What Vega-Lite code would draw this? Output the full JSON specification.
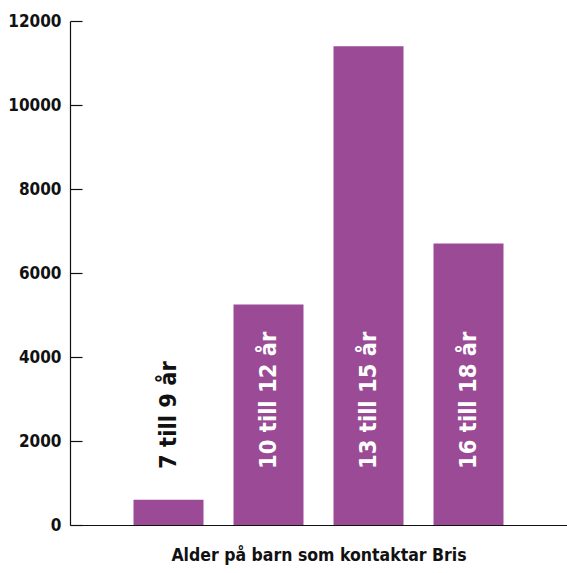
{
  "$schema": "https://vega.github.io/schema/vega-lite/v6.json",
  "autosize": "none",
  "width": 497,
  "height": 504,
  "padding": {"left": 70, "top": 21, "right": 0, "bottom": 48},
  "background": "white",
  "config": {
    "view": {"stroke": null},
    "font": "DejaVu Sans Condensed",
    "axis": {"grid": false, "domainColor": "#111111", "tickColor": "#111111", "domainWidth": 1.2, "tickWidth": 1.2}
  },
  "data": {
    "values": [
      {"alder": "7 till 9 år", "antal": 600},
      {"alder": "10 till 12 år", "antal": 5250},
      {"alder": "13 till 15 år", "antal": 11400},
      {"alder": "16 till 18 år", "antal": 6700}
    ]
  },
  "encoding": {
    "x": {
      "field": "alder",
      "type": "nominal",
      "sort": null,
      "scale": {"paddingInner": 0.3, "paddingOuter": 0.635},
      "axis": {
        "title": "Alder på barn som kontaktar Bris",
        "labels": false,
        "ticks": false,
        "titleFont": "DejaVu Sans Condensed",
        "titleFontSize": 17.5,
        "titleFontWeight": "bold",
        "titleColor": "#111111",
        "titlePadding": 21
      }
    }
  },
  "resolve": {"axis": {"y": "independent"}},
  "layer": [
    {
      "mark": {"type": "bar", "color": "#9b4a96"},
      "encoding": {
        "y": {
          "field": "antal",
          "type": "quantitative",
          "scale": {"domain": [0, 12000], "nice": false},
          "axis": {
            "title": null,
            "orient": "left",
            "values": [0, 2000, 4000, 6000, 8000, 10000, 12000],
            "format": "d",
            "ticks": false,
            "labelPadding": 9,
            "labelFont": "DejaVu Sans Condensed",
            "labelFontSize": 17,
            "labelFontWeight": "bold",
            "labelColor": "#111111"
          }
        }
      }
    },
    {
      "mark": {"type": "rule", "opacity": 0},
      "encoding": {
        "y": {
          "field": "antal",
          "type": "quantitative",
          "axis": {
            "title": null,
            "orient": "right",
            "offset": -497,
            "values": [0, 2000, 4000, 6000, 8000, 10000, 12000],
            "labels": false,
            "domain": false,
            "ticks": true,
            "tickSize": 12
          }
        }
      }
    },
    {
      "mark": {"type": "text", "angle": 270, "align": "left", "baseline": "middle", "dx": 56, "font": "DejaVu Sans Condensed", "fontSize": 23.5, "fontWeight": "bold"},
      "encoding": {
        "y": {"datum": 0, "type": "quantitative", "axis": null},
        "text": {"field": "alder"},
        "color": {
          "condition": {"test": "datum.antal < 2000", "value": "#111111"},
          "value": "white"
        }
      }
    }
  ]
}
